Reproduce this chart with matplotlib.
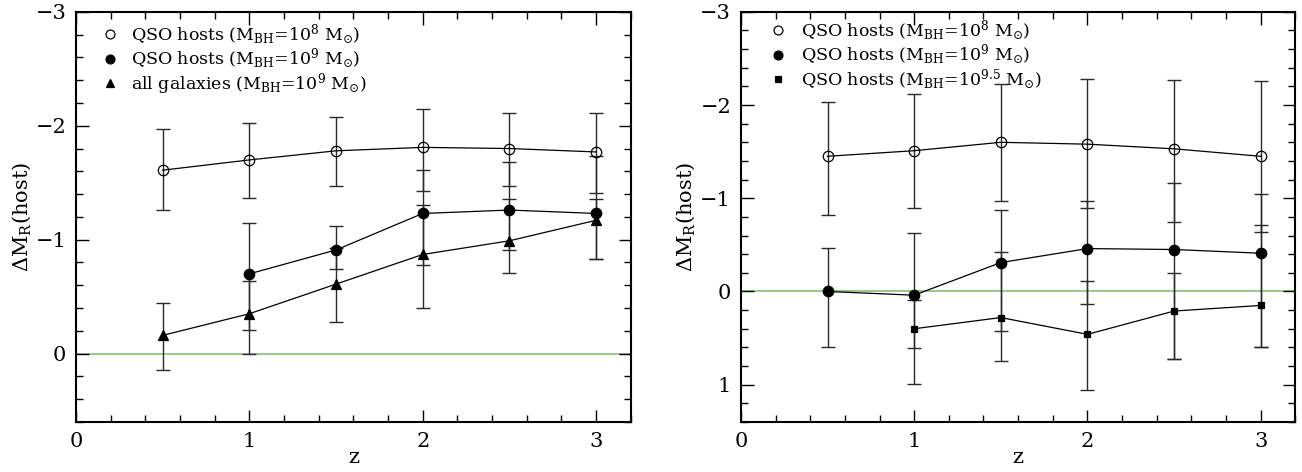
import numpy as np
import matplotlib
matplotlib.use("Agg")
import matplotlib.pyplot as plt
from matplotlib.ticker import MultipleLocator

plt.rcParams['font.family'] = ['DejaVu Serif']
plt.rcParams['mathtext.fontset'] = 'dejavuserif'

# ---- left panel data (Delta M_R, with the two ends of each error bar) ----
z_left = [0.5, 1.0, 1.5, 2.0, 2.5, 3.0]
qso8_left = [-1.61, -1.70, -1.78, -1.81, -1.80, -1.77]
qso8_left_hi = [-1.97, -2.02, -2.08, -2.15, -2.11, -2.11]
qso8_left_lo = [-1.26, -1.37, -1.47, -1.43, -1.47, -1.41]

z_qso9_left = [1.0, 1.5, 2.0, 2.5, 3.0]
qso9_left = [-0.70, -0.91, -1.23, -1.26, -1.23]
qso9_left_hi = [-1.15, -1.12, -1.61, -1.68, -1.73]
qso9_left_lo = [-0.21, -0.74, -0.78, -0.91, -0.83]

all9_left = [-0.16, -0.35, -0.61, -0.87, -0.99, -1.17]
all9_left_hi = [-0.44, -0.64, -0.93, -1.30, -1.36, -1.36]
all9_left_lo = [0.14, 0.00, -0.28, -0.40, -0.71, -0.83]

# ---- right panel data ----
z_right = [0.5, 1.0, 1.5, 2.0, 2.5, 3.0]
qso8_right = [-1.45, -1.51, -1.60, -1.58, -1.53, -1.45]
qso8_right_hi = [-2.03, -2.12, -2.23, -2.28, -2.27, -2.26]
qso8_right_lo = [-0.82, -0.89, -0.97, -0.89, -0.75, -0.64]

qso9_right = [0.00, 0.04, -0.31, -0.46, -0.45, -0.41]
qso9_right_hi = [-0.47, -0.63, -0.87, -0.97, -1.16, -1.05]
qso9_right_lo = [0.60, 0.61, 0.42, 0.13, 0.72, 0.60]

z_qso95 = [1.0, 1.5, 2.0, 2.5, 3.0]
qso95_right = [0.40, 0.28, 0.46, 0.21, 0.15]
qso95_right_hi = [0.09, -0.42, -0.11, -0.20, -0.71]
qso95_right_lo = [0.99, 0.75, 1.06, 0.72, 0.60]

lab8 = r'QSO hosts (M$_{\rm BH}$=10$^{8}$ M$_{\odot}$)'
lab9 = r'QSO hosts (M$_{\rm BH}$=10$^{9}$ M$_{\odot}$)'
laball = r'all galaxies (M$_{\rm BH}$=10$^{9}$ M$_{\odot}$)'
lab95 = r'QSO hosts (M$_{\rm BH}$=10$^{9.5}$ M$_{\odot}$)'


def series(ax, z, val, hi, lo, marker, mfc, ms, label):
    val = np.array(val)
    yerr = [val - np.array(hi), np.array(lo) - val]
    ax.errorbar(z, val, yerr=yerr, fmt='none', ecolor='#2a2a2a', elinewidth=1.0,
                capsize=5, capthick=1.0, zorder=2)
    ax.plot(z, val, '-', color='black', lw=0.9, zorder=3)
    h, = ax.plot(z, val, linestyle='none', marker=marker, mfc=mfc, mec='black',
                 mew=0.9, ms=ms, zorder=4, label=label)
    return h


def style(ax, ylo):
    ax.set_xlim(0, 3.2)
    ax.set_ylim(ylo, -3)
    ax.axhline(0, color='#8cc97a', lw=1.3, zorder=1)
    ax.xaxis.set_major_locator(MultipleLocator(1))
    ax.xaxis.set_minor_locator(MultipleLocator(0.2))
    ax.yaxis.set_major_locator(MultipleLocator(1))
    ax.yaxis.set_minor_locator(MultipleLocator(0.2))
    ax.tick_params(which='both', direction='in', top=True, right=True, labelsize=15, width=1)
    ax.tick_params(which='major', length=9, pad=7)
    ax.tick_params(which='minor', length=5)
    for s in ax.spines.values():
        s.set_linewidth(1.5)
    ax.set_xlabel('z', fontsize=15, labelpad=-2)
    ax.set_ylabel(r'$\Delta$M$_{\rm R}$(host)', fontsize=15, labelpad=2)


fig = plt.figure(figsize=(13.02, 4.72), dpi=100)
ax1 = fig.add_axes([0.0584, 0.106, 0.426, 0.869])
ax2 = fig.add_axes([0.569, 0.106, 0.426, 0.869])

h1 = series(ax1, z_left, qso8_left, qso8_left_hi, qso8_left_lo, 'o', 'none', 7.5, lab8)
h2 = series(ax1, z_qso9_left, qso9_left, qso9_left_hi, qso9_left_lo, 'o', 'black', 7.5, lab9)
h3 = series(ax1, z_left, all9_left, all9_left_hi, all9_left_lo, '^', 'black', 7, laball)
style(ax1, 0.6)
ax1.legend(handles=[h1, h2, h3], loc='upper left', bbox_to_anchor=(0.052, 0.975),
           frameon=False, fontsize=12.5, handlelength=0.6, handletextpad=0.9,
           labelspacing=0.0, borderaxespad=0, borderpad=0, markerscale=0.85)

g1 = series(ax2, z_right, qso8_right, qso8_right_hi, qso8_right_lo, 'o', 'none', 7.5, lab8)
g2 = series(ax2, z_right, qso9_right, qso9_right_hi, qso9_right_lo, 'o', 'black', 7.5, lab9)
g3 = series(ax2, z_qso95, qso95_right, qso95_right_hi, qso95_right_lo, 's', 'black', 5, lab95)
style(ax2, 1.4)
ax2.legend(handles=[g1, g2, g3], loc='upper left', bbox_to_anchor=(0.058, 0.985),
           frameon=False, fontsize=12.5, handlelength=0.6, handletextpad=1.0,
           labelspacing=0.0, borderaxespad=0, borderpad=0, markerscale=0.85)

fig.savefig('out.png', dpi=100)
